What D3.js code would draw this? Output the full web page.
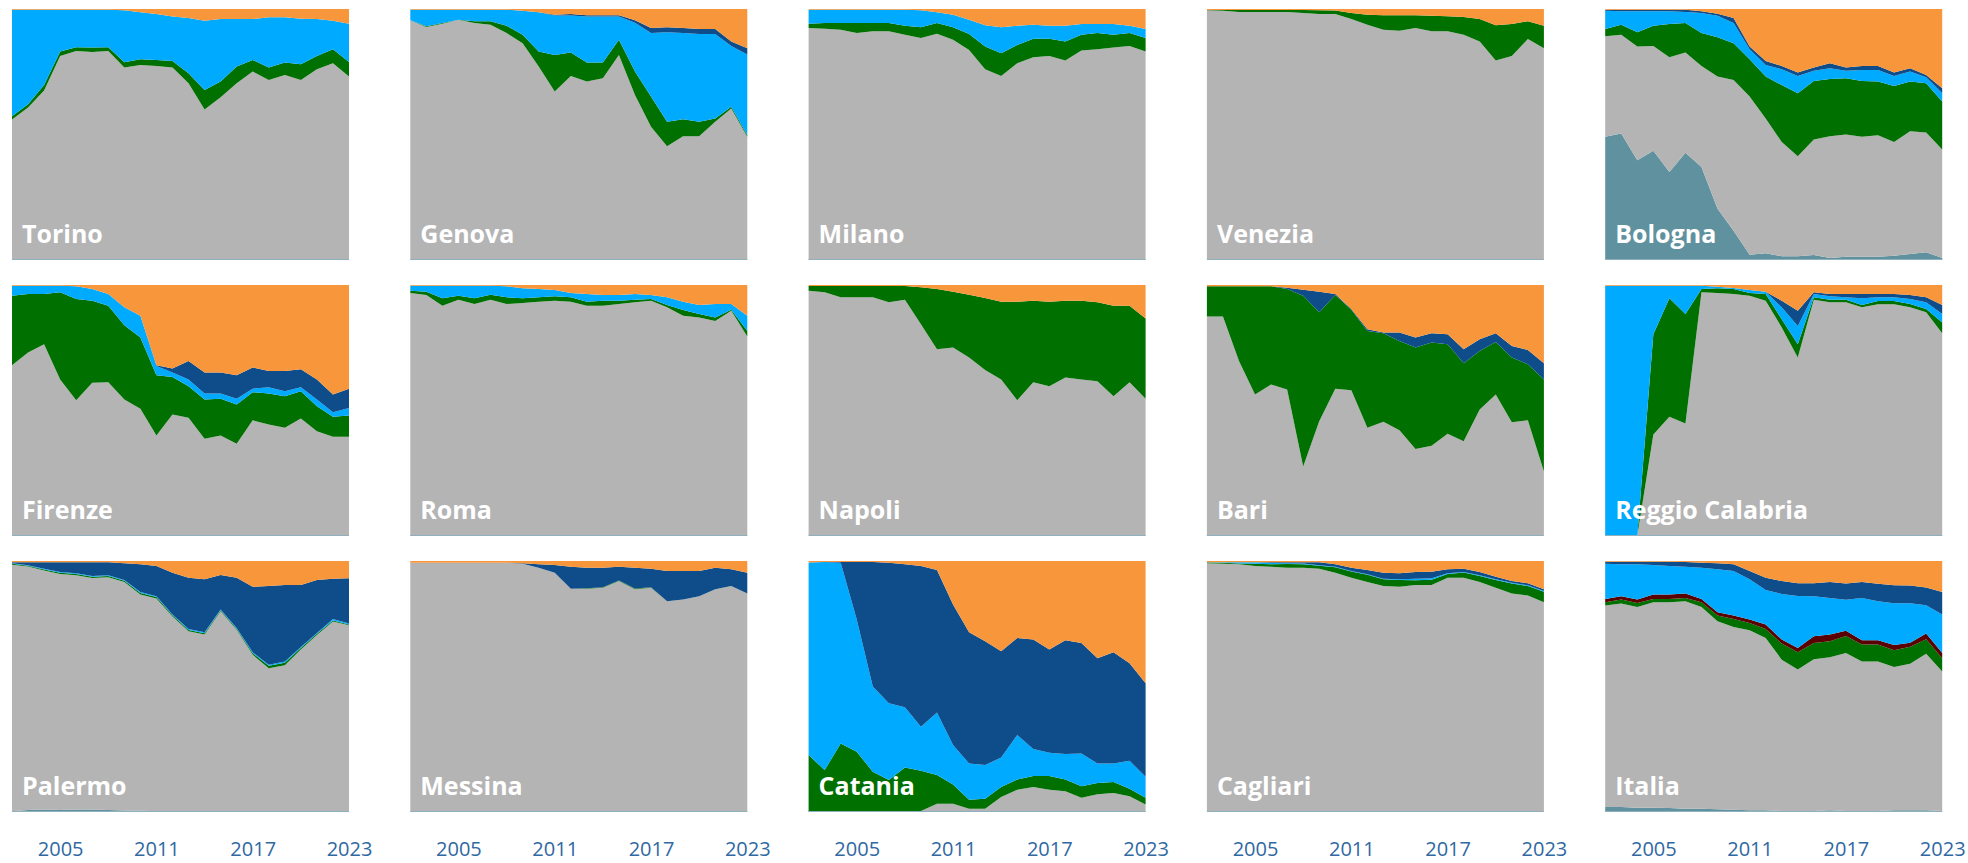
<!DOCTYPE html>
<html>
<head>
<meta charset="utf-8">
<script src="https://cdn.jsdelivr.net/npm/d3@7"></script>
<style>
  html, body { margin: 0; padding: 0; background: #ffffff; }
  svg { display: block; }
</style>
</head>
<body>
<script>
// ---------------- DATA ----------------
const cities = ["Torino","Genova","Milano","Venezia","Bologna","Firenze","Roma","Napoli","Bari","Reggio Calabria","Palermo","Messina","Catania","Cagliari","Italia"];
const years = [2002,2003,2004,2005,2006,2007,2008,2009,2010,2011,2012,2013,2014,2015,2016,2017,2018,2019,2020,2021,2022,2023];
const tickYears = [2005, 2011, 2017, 2023];

// Shares (%) per city (same order as cities), per year. Stacked bottom -> top.
const teal = [
  [0.3,0.2,0.1,0,0,0,0,0,0,0,0,0,0,0,0,0,0,0,0,0,0,0],
  [0,0,0,0,0,0,0,0,0,0,0,0,0,0,0,0,0,0,0,0,0,0],
  [0,0,0,0,0,0,0,0,0,0,0,0,0,0,0,0,0,0,0,0,0,0],
  [0,0,0,0,0,0,0,0,0,0,0,0,0,0,0,0,0,0,0,0,0,0],
  [49.1,50.4,39.7,43.5,35.1,42.7,37.1,20.4,11.7,2.1,2.7,1.5,1.5,2,0.8,1.3,1.3,1.3,1.7,2.4,3.1,0.8],
  [0,0,0,0,0,0,0,0,0,0,0,0,0,0,0,0,0,0,0,0,0,0],
  [0,0,0,0,0,0,0,0,0,0,0,0,0,0,0,0,0,0,0,0,0,0],
  [0,0,0,0,0,0,0,0,0,0,0,0,0,0,0,0,0,0,0,0,0,0],
  [0,0,0,0,0,0,0,0,0,0,0,0,0,0,0,0,0,0,0,0,0,0],
  [0,0,0,0,0,0,0,0,0,0,0,0,0,0,0,0,0,0,0,0,0,0],
  [0.3,0.8,1,0.8,1,1,0.8,0.6,0.5,0.3,0,0,0,0,0,0,0,0,0,0,0,0],
  [0,0,0,0,0,0,0,0,0,0,0,0,0,0,0,0,0,0,0,0,0,0],
  [0,0,0,0,0,0,0,0,0,0,0,0,0,0,0,0,0,0,0,0,0,0],
  [0,0,0,0,0,0,0,0,0,0,0,0,0,0,0,0,0,0,0,0,0,0],
  [2,2,1.7,1.7,1.6,1.3,1.3,1.1,0.9,0.7,0.7,0.4,0.4,0.4,0.7,0.4,0.4,0.4,0.7,0.7,0.7,0.4]
];
const gray = [
  [55.7,60.6,67.4,81.3,83.3,82.9,83.3,76.7,77.7,77.3,76.7,70.4,60,64.8,70.4,75.1,71.7,73.7,71.7,76,78.4,73.1],
  [95.5,92.8,94.1,95.7,94.4,93.7,90.4,86.4,77.1,67.1,73.3,71.1,72.4,81.7,65.7,53.1,45.3,49.3,49.3,55.1,60.4,49.1],
  [92.4,92.1,91.7,90.4,91.1,91.1,89.7,88.4,90.1,87.7,83.7,76,73.3,78.4,80.8,81.3,79.5,83.5,84,84.7,85.3,83.1],
  [99.5,99.3,98.8,98.8,98.8,98.8,98.4,98,98,96,93.7,91.7,91.3,92.4,91.1,91.1,89.7,87.1,79.5,81.3,88,84.4],
  [40,39.3,45.4,41.8,45.7,40,40.2,52.7,60,63,53.7,45.5,39.8,46,48.5,48.7,47.8,48.4,45.3,48.9,47.7,43.2],
  [68,73.1,76.4,62.4,54.1,61.1,61.3,54.4,50.7,40,48.4,47.1,38.7,40,36.8,46.1,44.4,43.1,46.8,41.7,39.5,39.5],
  [96.8,96,91.7,94.1,92.4,94.1,92.4,92.8,93.3,93.7,93.3,91.7,91.7,92.4,93.1,93.7,91.1,87.7,87.1,85.7,89.7,79.5],
  [97.7,97.1,95.1,95.1,95.1,93.1,94.1,84.4,74.4,75.1,71.1,66.1,62.4,54.1,61.3,59.7,63.1,62.4,61.7,55.7,61.3,54.7],
  [87.5,87.5,69.7,56.4,60.4,58.4,27.7,45.7,58.7,58.1,43.1,45.5,42.1,34.7,36,40.7,37.7,50.4,56.4,45.3,46.1,25.7],
  [0,0,0,40.4,47.5,44.8,97.1,96.8,96.4,95.7,93.7,83.1,71.1,94.1,93.1,93.1,91.1,92,92,91.1,89.1,80.8],
  [98.2,97,95.2,94,93.3,92.2,92.7,91,86.2,84.8,77.9,72,70.7,80,72.6,62.6,57.3,58.5,64.7,70.5,75.9,74.4],
  [99.3,99.3,99.3,99.3,99.3,99.3,99.3,98.9,97.3,95.3,88.9,88.9,89.3,92,88.7,89.3,84,84.7,86,88.7,90,87.1],
  [0,0,0,0,0,0,0,0.4,3.3,3.3,1.3,1.3,6,8.9,10,8.9,8.3,5.7,7.1,7.6,6.3,3],
  [99.1,98.9,98.7,98,97.7,97.3,97.3,96.9,95.3,93.3,91.6,90,89.7,90.4,90.4,93.3,93.3,91.6,89.3,87.1,86.3,83.6],
  [80.3,81.1,80,81.9,81.9,82.7,80.4,74.9,72.8,71.7,68.6,60.3,56.4,60.5,61,62.6,59.6,59.6,56.7,58,61.3,55.6]
];
const green = [
  [1.3,1.3,2.2,1.8,1.5,1.8,1.5,2.1,2.3,2.4,2.6,4,7.7,6.3,6.7,4.6,5,5,6.3,5.3,5.6,5.8],
  [0,0.3,0.3,0,0.7,1.4,2.9,3.3,6,14.6,9.4,7.6,6.3,6,9.4,12,9.8,6.8,5.8,1.3,0.7,0.6],
  [1.7,2.3,2.7,4,3.3,3.3,3.6,4.3,4.3,5,6.3,9.1,9.1,7.3,7.3,6.8,7.6,6.2,6.4,5,5.1,5.3],
  [0.1,0.3,0.8,0.8,0.8,0.8,1.2,1.5,1.4,2.4,4,5.8,6.2,5.1,6.2,6,7.1,8.9,14,12.7,7.1,8.9],
  [2.9,4,5.6,8,13.2,11.7,13.1,15.6,14.7,14.9,16.7,22.7,25.1,23.3,22.8,22.4,22.2,21.4,22.3,19.8,19.6,19.1],
  [27.7,23.3,20,34.7,40.3,32.6,30.4,29.6,28.4,24,14.9,12.6,15.7,14.7,15.6,11.2,12.4,12.6,10.9,10,8,8.5],
  [0.9,1.3,3,1.6,2.3,2,2.7,1.9,1.8,1.8,1.8,1.6,2,1.3,1,0.7,0.9,2.3,1.3,1.4,0.4,2.2],
  [1.9,2.5,4.5,4.5,4.5,6.5,5.5,14.7,24,22.2,25,28.7,30.9,39.2,32.4,33.6,30.6,31.3,31.4,36,30.4,32],
  [12,12,29.8,43.1,39.1,40,68,43.4,37.3,32,38.6,35.3,35.6,40.4,41.1,35.7,31.1,23.3,20.9,25.8,22.3,36.7],
  [0,0,0,40,47.2,43.6,1.3,1.9,2,1.1,2.7,3.3,5.3,1,1,1,0.9,1.3,1.3,1.3,1.3,4.3],
  [0.4,0.3,0.4,0.5,0.5,0.5,0.5,0.5,0.6,0.6,0.5,0.5,0.5,0.4,0.4,0.6,1,1,0.6,0.5,0.4,0.3],
  [0,0,0,0,0,0,0,0,0,0,0,0.2,0.2,0.2,0.3,0.2,0,0,0,0,0,0],
  [22.7,16.7,27.3,24,16,12.7,17.7,16,11.4,7.7,3.6,4,4,4,4.3,5.4,4.6,4.6,4.5,4.4,3,2.7],
  [0.3,0.4,0.3,0.9,1,1.5,1.4,1.2,2.2,2.5,2.9,2.7,2.7,1.9,2.1,1.5,2.1,2.4,3.1,3.9,3.7,4.1],
  [1.3,1.6,1.6,1.3,1.3,1.3,1.9,2.3,3.2,2.9,3.6,6.4,6.9,6.4,6.3,6.7,6.7,6.7,6.7,6.7,5.7,5.3]
];
const darkred = [
  [0,0,0,0,0,0,0,0,0,0,0,0,0,0,0,0,0,0,0,0,0,0],
  [0,0,0,0,0,0,0,0,0,0,0,0,0,0,0,0,0,0,0,0,0,0],
  [0,0,0,0,0,0,0,0,0,0,0,0,0,0,0,0,0,0,0,0,0,0],
  [0,0,0,0,0,0,0,0,0,0,0,0,0,0,0,0,0,0,0,0,0,0],
  [0,0,0,0,0,0,0,0,0,0,0,0,0,0,0,0,0,0,0,0,0,0],
  [0,0,0,0,0,0,0,0,0,0,0,0,0,0,0,0,0,0,0,0,0,0],
  [0,0,0,0,0,0,0,0,0,0,0,0,0,0,0,0,0,0,0,0,0,0],
  [0,0,0,0,0,0,0,0,0,0,0,0,0,0,0,0,0,0,0,0,0,0],
  [0,0,0,0,0,0,0,0,0,0,0,0,0,0,0,0,0,0,0,0,0,0],
  [0,0,0,0,0,0,0,0,0,0,0,0,0,0,0,0,0,0,0,0,0,0],
  [0,0,0,0,0,0,0,0,0,0,0,0,0,0,0,0,0,0,0,0,0,0],
  [0,0,0,0,0,0,0,0,0,0,0,0,0,0,0,0,0,0,0,0,0,0],
  [0,0,0,0,0,0,0,0,0,0,0,0,0,0,0,0,0,0,0,0,0,0],
  [0,0,0,0,0,0,0,0,0,0,0,0,0,0,0,0,0,0,0,0,0,0],
  [1.3,1.3,1.4,1.8,1.8,1.8,1.3,1.3,1.4,1.4,1.8,1.6,1.7,2.7,2.7,2.1,1.7,1.7,2,1.6,2.3,2]
];
const lightblue = [
  [42.4,37.6,30,16.6,14.9,15,14.9,20.7,18.7,18.3,17.7,22,27.6,24.9,18.9,16.3,20,18,18.1,14.7,11.3,15.2],
  [4.2,6.6,5.3,4,4.6,4.6,6.4,9.6,15.6,15.7,14.7,18.3,18.3,9.3,19.4,25.3,35.6,34.3,34.9,33.6,24.2,32.2],
  [5.6,5.3,5.3,5.3,5.3,5.3,6.4,6.8,4.3,5,5.7,8.4,10.3,7.6,5.6,5.2,6.2,4.3,3.6,4.3,2.9,3.6],
  [0,0,0,0,0,0,0,0,0,0,0,0,0,0,0,0,0,0,0,0,0,0],
  [7.3,5.4,8.4,5.8,5.1,4.4,8,8.6,8,4,4.6,6.3,6.9,4.1,4.3,3,4.4,4.6,4,4,2.4,3.3],
  [4,3.3,3.3,2.6,5.1,4.7,4.7,7.1,8.6,3.7,1.8,2.7,2.4,2.1,2.3,1.4,2.5,2,1.6,2.7,1.8,3],
  [2,2.4,5,4,5,3.6,4.4,4,3.3,2.5,1.7,3.1,2.3,2.3,2.3,1.6,3.1,3.3,3.6,5.3,2.3,6],
  [0,0,0,0,0,0,0,0,0,0,0,0,0,0,0,0,0,0,0,0,0,0],
  [0,0,0,0,0,0,0,0,0,0,0,0,0,0,0,0,0,0,0,0,0,0],
  [99.7,99.7,99.7,19.3,5,11.3,1.3,0.6,0.4,1.2,0.9,4.7,7.3,1.3,1.4,1,2.7,1.4,1.4,2,2.7,3.3],
  [0.2,0.2,0.3,0.3,0.3,0.3,0.3,0.3,0.3,0.3,0.3,0.4,0.4,0.3,0.3,0.4,0.4,0.5,0.4,0.3,0.6,0.4],
  [0,0,0,0,0,0,0,0,0,0,0,0,0,0,0,0,0,0,0,0,0,0],
  [76.7,82.9,72,52.7,34,30.6,24,17.6,24.9,15.7,14.4,13.4,11.7,17.8,10.8,9.3,10.2,13,7.7,7.3,11.1,8.3],
  [0.1,0.2,0.5,0.6,0.5,0.3,0.3,0.2,0.2,0.2,0.2,0.2,0.3,0.6,0.6,0.3,0.2,0.3,0.3,0.3,0.3,0.3],
  [14,12.7,14,11.7,11.3,10.6,12.4,17.1,17.7,16,13.7,18.2,20.7,16,14.6,12.3,16.9,15.6,16.6,15.7,11.1,15.4]
];
const darkblue = [
  [0,0,0,0,0,0,0,0,0,0,0,0,0,0,0,0,0,0,0,0,0,0],
  [0,0,0,0,0,0,0,0,0,0.3,0.6,0.5,0.5,0.5,1,2,2,2,2,2,1.8,2.5],
  [0,0,0,0,0,0,0,0,0,0,0,0,0,0,0,0,0,0,0,0,0,0],
  [0,0,0,0,0,0,0,0,0,0,0,0,0,0,0,0,0,0,0,0,0,0],
  [0.4,0.6,0.6,0.6,0.6,0.9,0.7,0.8,2,1.1,1.6,1.3,1.4,1.3,2,1.3,1.6,1.6,1.4,1.3,0.9,2],
  [0,0,0,0,0,0,0,0,0,0.3,1.6,7.3,8.3,8.3,9.3,8.4,6.4,8,7.1,8,7.1,7.7],
  [0,0,0,0,0,0,0,0,0,0,0,0,0,0,0,0,0,0,0,0,0,0],
  [0,0,0,0,0,0,0,0,0,0,0,0,0,0,0,0,0,0,0,0,0,0],
  [0,0,0,0,0,0.5,2.4,8.2,0.4,0.3,0.7,0.3,3.4,4,3.7,4,5.6,4.7,3.5,4.6,5.7,6.4],
  [0,0,0,0,0,0,0,0,0,0,0,2.6,6,0.7,0.9,1.3,1.7,1.3,1.3,1.6,2,3.6],
  [0.4,1.2,2.6,3.9,4.4,5.5,5.2,6.7,11.1,12,16.6,20.4,21.1,13.7,20,26.1,31.3,30.4,24.7,21.1,16,18],
  [0,0,0,0,0,0,0,0.2,1.4,3.1,8.8,8.2,7.8,5.5,8.3,7.4,12,11.3,10,8.6,6.7,8.2],
  [0,0,0.3,22.9,49.6,56,57,64,56.8,56,52.3,49.3,42.3,38.6,43.6,41.1,45.3,44,42,44.3,38.9,37.3],
  [0,0,0,0,0.3,0.4,0.5,1.2,1,1.3,1.7,2.4,2.4,2.7,2.6,1.6,1.3,1.3,1,0.7,0.8,0.7],
  [0.8,1,1,1.3,1.7,1.9,2,2.4,2.7,3.3,4.9,5.1,5.1,5.1,6.3,6.4,6.3,6.9,7.1,7,6.9,8.9]
];
const orange = [
  [0.3,0.3,0.3,0.3,0.3,0.3,0.3,0.5,1.3,2,3,3.6,4.7,4,4,4,3.3,3.3,3.9,4,4.7,5.9],
  [0.3,0.3,0.3,0.3,0.3,0.3,0.3,0.7,1.3,2.3,2,2.5,2.5,2.5,4.5,7.6,7.3,7.6,8,8,12.9,15.6],
  [0.3,0.3,0.3,0.3,0.3,0.3,0.3,0.5,1.3,2.3,4.3,6.5,7.3,6.7,6.3,6.7,6.7,6,6,6,6.7,8],
  [0.4,0.4,0.4,0.4,0.4,0.4,0.4,0.5,0.6,1.6,2.3,2.5,2.5,2.5,2.7,2.9,3.2,4,6.5,6,4.9,6.7],
  [0.3,0.3,0.3,0.3,0.3,0.3,0.9,1.9,3.6,14.9,20.7,22.7,25.3,23.3,21.6,23.3,22.7,22.7,25.3,23.6,26.3,31.6],
  [0.3,0.3,0.3,0.3,0.5,1.6,3.6,8.9,12.3,32,33.3,30.3,34.9,34.9,36,32.9,34.3,34.3,33.6,37.6,43.6,41.3],
  [0.3,0.3,0.3,0.3,0.3,0.3,0.5,1.3,1.6,2,3.2,3.6,4,4,3.6,4,4.9,6.7,8,7.6,7.6,12.3],
  [0.4,0.4,0.4,0.4,0.4,0.4,0.4,0.9,1.6,2.7,3.9,5.2,6.7,6.7,6.3,6.7,6.3,6.3,6.9,8.3,8.3,13.3],
  [0.5,0.5,0.5,0.5,0.5,1.1,1.9,2.7,3.6,9.6,17.6,18.9,18.9,20.9,19.2,19.6,25.6,21.6,19.2,24.3,25.9,31.2],
  [0.3,0.3,0.3,0.3,0.3,0.3,0.3,0.7,1.2,2,2.7,6.3,10.3,2.9,3.6,3.6,3.6,3.6,3.6,4,4.9,8],
  [0.5,0.5,0.5,0.5,0.5,0.5,0.5,0.9,1.3,2,4.7,6.7,7.3,5.6,6.7,10.3,10,9.6,9.6,7.6,7.1,6.9],
  [0.7,0.7,0.7,0.7,0.7,0.7,0.7,0.9,1.3,1.6,2.3,2.7,2.7,2.3,2.7,3.1,4,4,4,2.7,3.3,4.7],
  [0.6,0.4,0.4,0.4,0.4,0.7,1.3,2,3.6,17.3,28.4,32,36,30.7,31.3,35.3,31.6,32.7,38.7,36.4,40.7,48.7],
  [0.5,0.5,0.5,0.5,0.5,0.5,0.5,0.5,1.3,2.7,3.6,4.7,4.9,4.4,4.3,3.3,3.1,4.4,6.3,8,8.9,11.3],
  [0.3,0.3,0.3,0.3,0.3,0.4,0.7,0.9,1.3,4,6.7,8,8.9,8.9,8.4,8.9,8.4,9.1,9.6,9.7,10.4,12.4]
];

const seriesKeys = ["teal","gray","green","darkred","lightblue","darkblue","orange"];
const seriesColors = ["#5f929e","#b4b4b4","#007000","#5a0000","#00aaff","#0e4c8a","#f7963b"];

// ---------------- LAYOUT ----------------
const W = 1968, H = 863;
const panelW = 337, panelH = 251;
const left0 = 12, top0 = 9, colStep = 398.3, rowStep = 276, nCols = 5;

const svg = d3.select("body").append("svg").attr("width", W).attr("height", H);

const x = d3.scaleLinear().domain([years[0], years[years.length - 1]]).range([0, panelW]);
const y = d3.scaleLinear().domain([0, 1]).range([panelH, 0]);
const color = d3.scaleOrdinal().domain(seriesKeys).range(seriesColors);
const seriesByKey = { teal, gray, green, darkred, lightblue, darkblue, orange };

const area = d3.area()
  .x(d => x(d.data.year))
  .y0(d => y(d[0]))
  .y1(d => y(d[1]));

cities.forEach((city, i) => {
  const col = i % nCols, row = Math.floor(i / nCols);
  const rows = years.map((yr, j) => {
    const o = { year: yr };
    seriesKeys.forEach(k => { o[k] = seriesByKey[k][i][j]; });
    return o;
  });
  const stacked = d3.stack().keys(seriesKeys).offset(d3.stackOffsetExpand)(rows);

  const g = svg.append("g")
    .attr("transform", `translate(${left0 + col * colStep},${top0 + row * rowStep})`);

  g.selectAll("path.layer")
    .data(stacked)
    .join("path")
    .attr("class", "layer")
    .attr("fill", d => color(d.key))
    .attr("d", area);

  g.append("line")
    .attr("x1", 0).attr("x2", panelW)
    .attr("y1", panelH - 0.5).attr("y2", panelH - 0.5)
    .attr("stroke", "#8fb0bd").attr("stroke-width", 1);

  g.append("text")
    .attr("x", 10)
    .attr("y", panelH - 17)
    .attr("fill", "#ffffff")
    .style("font-family", "'Open Sans', 'Noto Sans', sans-serif")
    .style("font-weight", 700)
    .style("font-size", "25px")
    .text(city);
});

// x axes under each column
for (let c = 0; c < nCols; c++) {
  const ax = svg.append("g")
    .attr("transform", `translate(${left0 + c * colStep},842)`)
    .call(d3.axisBottom(x).tickValues(tickYears).tickFormat(d3.format("d")).tickSize(0).tickPadding(0));
  ax.select(".domain").remove();
  ax.selectAll("text")
    .attr("fill", "#2f68a2")
    .style("font-family", "'Open Sans', 'Noto Sans', sans-serif")
    .style("font-size", "20px");
}
</script>
</body>
</html>
